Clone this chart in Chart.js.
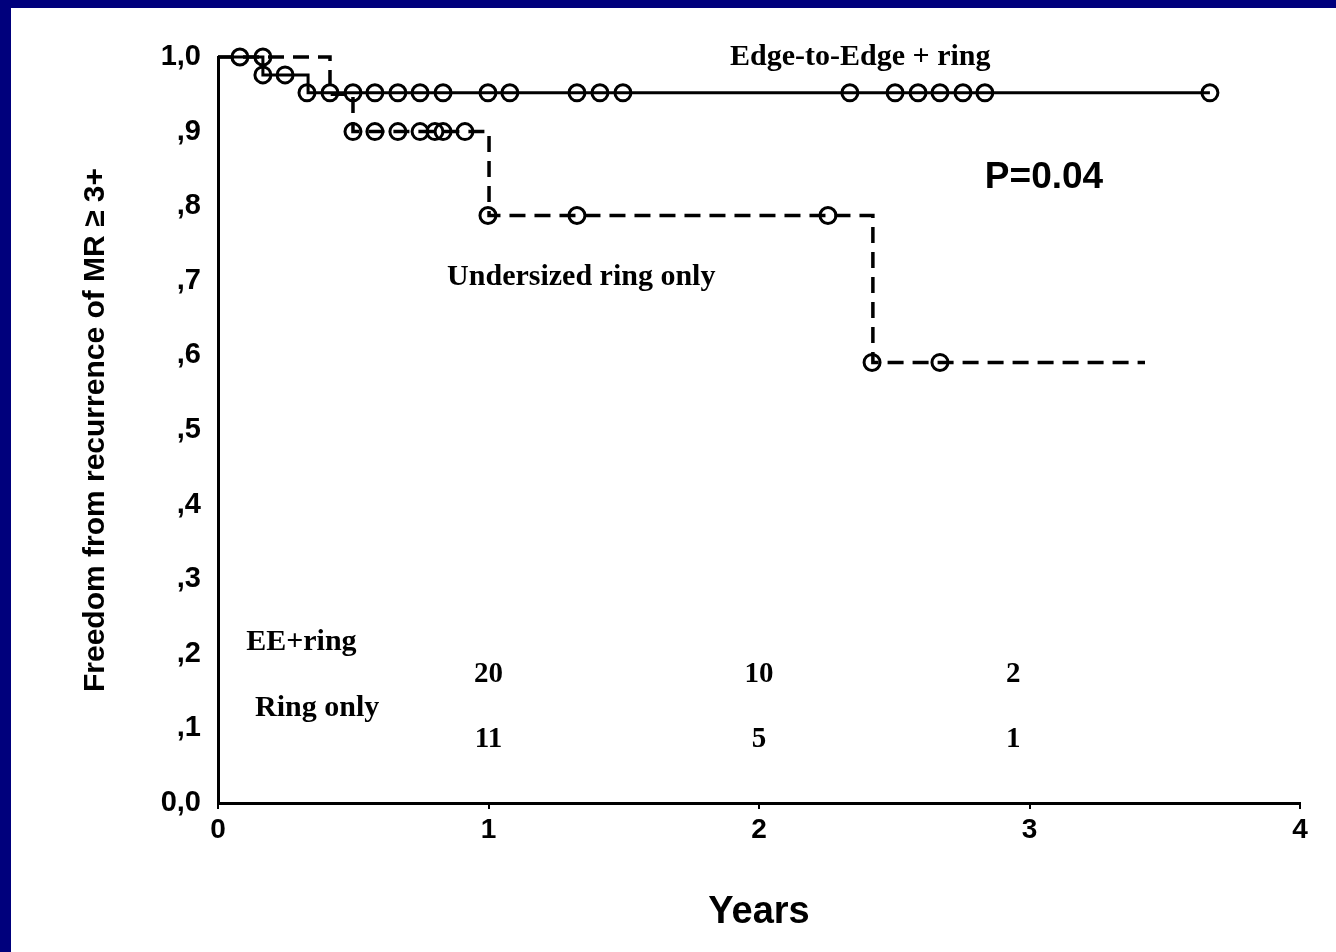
<!DOCTYPE html>
<html>
<head>
<meta charset="utf-8">
<script src="https://cdn.jsdelivr.net/npm/chart.js@4"></script>
<style>
  html, body { margin: 0; padding: 0; width: 1336px; height: 952px; overflow: hidden; background: #00007c; }
  #panel { position: absolute; left: 11px; top: 8px; width: 1325px; height: 944px; background: #ffffff; }
</style>
</head>
<body>
<div id="panel"><canvas id="kmChart" width="1325" height="944"></canvas></div>
<script>
// Kaplan-Meier steps (years, freedom from MR >= 3+)
const eeStepTimes = [0, 0.166, 0.333, 3.667];
const eeStepSurv = [1, 0.976, 0.952, 0.952];
const ringStepTimes = [0, 0.414, 0.499, 1.002, 2.421, 3.427];
const ringStepSurv = [1, 0.95, 0.90, 0.7875, 0.5906, 0.5906];

// censored patients
const eeCensorTimes = [0.081, 0.166, 0.248, 0.329, 0.414, 0.499, 0.580, 0.665, 0.747, 0.832, 0.998, 1.079,
    1.327, 1.412, 1.497, 2.336, 2.503, 2.588, 2.669, 2.754, 2.835, 3.667];
const eeCensorSurv = [1, 0.976, 0.976, 0.952, 0.952, 0.952, 0.952, 0.952, 0.952, 0.952, 0.952, 0.952,
    0.952, 0.952, 0.952, 0.952, 0.952, 0.952, 0.952, 0.952, 0.952, 0.952];
const ringCensorTimes = [0.166, 0.499, 0.580, 0.665, 0.747, 0.802, 0.832, 0.913, 0.998, 1.327, 2.255, 2.418, 2.669];
const ringCensorSurv = [1, 0.90, 0.90, 0.90, 0.90, 0.90, 0.90, 0.90, 0.7875, 0.7875, 0.7875, 0.5906, 0.5906];

// numbers at risk
const riskTimes = [1, 2, 2.94];
const eeAtRisk = [20, 10, 2];
const ringAtRisk = [11, 5, 1];

const xTickLabels = ['0', '1', '2', '3', '4'];
const yTickLabels = ['0,0', ',1', ',2', ',3', ',4', ',5', ',6', ',7', ',8', ',9', '1,0'];

const sansFont = '"Liberation Sans", Arial, sans-serif';
const serifFont = '"Liberation Serif", "Times New Roman", serif';

// text placed in data units
const notes = [
    { text: 'Edge-to-Edge + ring', x: 1.893, y: 1.0, font: 'bold 30px ' + serifFont },
    { text: 'P=0.04', x: 2.835, y: 0.838, font: 'bold 37px ' + sansFont },
    { text: 'Undersized ring only', x: 0.847, y: 0.705, font: 'bold 30px ' + serifFont },
    { text: 'EE+ring', x: 0.104, y: 0.216, font: 'bold 30px ' + serifFont },
    { text: 'Ring only', x: 0.137, y: 0.127, font: 'bold 30px ' + serifFont }
];
const eeRiskRow = 0.172;
const ringRiskRow = 0.085;

function toPoints(xs, ys) {
    return xs.map((t, i) => ({ x: t, y: ys[i] }));
}

const textPlugin = {
    id: 'kmText',
    afterDatasetsDraw(chart) {
        const { ctx, scales: { x, y } } = chart;
        ctx.save();
        ctx.fillStyle = '#000';
        ctx.textBaseline = 'middle';
        ctx.textAlign = 'left';
        notes.forEach(n => {
            ctx.font = n.font;
            ctx.fillText(n.text, x.getPixelForValue(n.x), y.getPixelForValue(n.y));
        });
        ctx.font = 'bold 29px ' + serifFont;
        ctx.textAlign = 'center';
        riskTimes.forEach((t, i) => {
            ctx.fillText(String(eeAtRisk[i]), x.getPixelForValue(t), y.getPixelForValue(eeRiskRow));
            ctx.fillText(String(ringAtRisk[i]), x.getPixelForValue(t), y.getPixelForValue(ringRiskRow));
        });
        ctx.restore();
    }
};

const censorStyle = {
    showLine: false,
    pointStyle: 'circle',
    pointRadius: 8,
    pointBorderWidth: 3,
    pointBorderColor: '#000',
    pointBackgroundColor: 'rgba(0,0,0,0)',
    clip: false
};

new Chart(document.getElementById('kmChart'), {
    type: 'line',
    data: {
        datasets: [
            {
                label: 'Edge-to-Edge + ring',
                data: toPoints(eeStepTimes, eeStepSurv),
                borderColor: '#000',
                borderWidth: 3,
                stepped: true,
                pointRadius: 0,
                fill: false,
                clip: false
            },
            {
                label: 'Undersized ring only',
                data: toPoints(ringStepTimes, ringStepSurv),
                borderColor: '#000',
                borderWidth: 3.5,
                borderDash: [16, 9],
                stepped: true,
                pointRadius: 0,
                fill: false,
                clip: false
            },
            Object.assign({ label: 'EE censored', data: toPoints(eeCensorTimes, eeCensorSurv) }, censorStyle),
            Object.assign({ label: 'Ring censored', data: toPoints(ringCensorTimes, ringCensorSurv) }, censorStyle)
        ]
    },
    options: {
        responsive: false,
        animation: false,
        events: [],
        layout: { padding: { left: 0, top: 49, right: 36, bottom: 0 } },
        scales: {
            x: {
                type: 'linear',
                min: 0,
                max: 4,
                afterFit: s => { s.height = 149; },
                border: { color: '#000', width: 3 },
                grid: { drawOnChartArea: false, drawTicks: true, tickLength: 6, color: '#000', lineWidth: 2 },
                ticks: {
                    stepSize: 1,
                    padding: 4,
                    color: '#000',
                    font: { family: sansFont, size: 28, weight: 'bold' },
                    callback: (v, i) => xTickLabels[i]
                },
                title: {
                    display: true,
                    text: 'Years',
                    color: '#000',
                    font: { family: sansFont, size: 38, weight: 'bold' },
                    padding: { top: 0, bottom: 17 }
                }
            },
            y: {
                type: 'linear',
                min: 0,
                max: 1,
                afterFit: s => { s.width = 207; },
                border: { color: '#000', width: 3 },
                grid: { drawOnChartArea: false, drawTicks: false },
                ticks: {
                    stepSize: 0.1,
                    padding: 17,
                    color: '#000',
                    font: { family: sansFont, size: 29, weight: 'bold' },
                    callback: (v, i) => yTickLabels[i]
                },
                title: {
                    display: true,
                    text: 'Freedom from recurrence of MR \u2265 3+',
                    color: '#000',
                    font: { family: sansFont, size: 30, weight: 'bold' },
                    padding: { top: 67, bottom: 0 }
                }
            }
        },
        plugins: {
            legend: { display: false },
            tooltip: { enabled: false }
        }
    },
    plugins: [textPlugin]
});
</script>
</body>
</html>
